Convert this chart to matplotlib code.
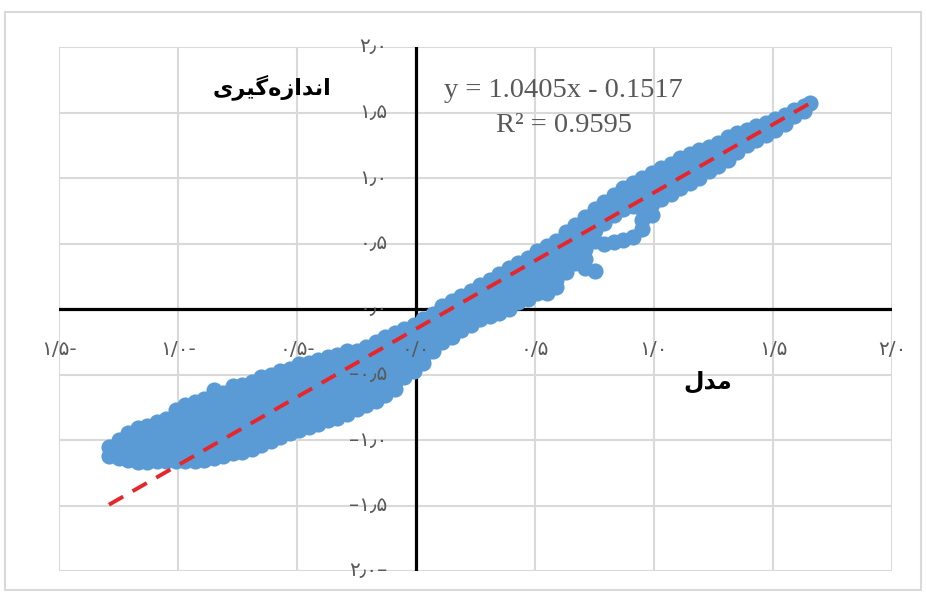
import matplotlib
matplotlib.use('Agg')
import matplotlib.pyplot as plt
from matplotlib.patches import Rectangle

# ---------------- data ----------------
# model values (x) grouped in columns; measured values (y) for each column
col_x = [-1.29, -1.25, -1.21, -1.17, -1.13, -1.09, -1.05, -1.01, -0.97, -0.93,
         -0.89, -0.85, -0.81, -0.77, -0.73, -0.69, -0.65, -0.61, -0.57, -0.53,
         -0.49, -0.45, -0.41, -0.37, -0.33, -0.29, -0.25, -0.21, -0.17, -0.13,
         -0.09, -0.05, -0.01, 0.03, 0.07, 0.11, 0.15, 0.19, 0.23, 0.27,
         0.31, 0.35, 0.39, 0.43, 0.47, 0.51, 0.55, 0.59, 0.63, 0.67,
         0.71, 0.75, 0.79, 0.83, 0.87, 0.91, 0.95, 0.99, 1.03, 1.07,
         1.11, 1.15, 1.19, 1.23, 1.27, 1.31, 1.35, 1.39, 1.43, 1.47,
         1.51, 1.55, 1.59, 1.63, 1.655]
col_y = [
    [-1.05, -1.12],
    [-1.00, -1.07, -1.14],
    [-0.95, -1.02, -1.09, -1.15],
    [-0.91, -0.98, -1.05, -1.12, -1.17],
    [-0.89, -0.96, -1.03, -1.10, -1.17],
    [-0.86, -0.94, -1.02, -1.09, -1.16],
    [-0.84, -0.92, -1.01, -1.09, -1.16],
    [-0.77, -0.86, -0.95, -1.03, -1.10, -1.16],
    [-0.73, -0.80, -0.88, -0.99, -1.08, -1.16],
    [-0.71, -0.80, -0.88, -0.96, -1.04, -1.11, -1.16],
    [-0.69, -0.77, -0.86, -0.94, -1.03, -1.09, -1.15],
    [-0.62, -0.71, -0.79, -0.87, -0.95, -1.02, -1.09, -1.14],
    [-0.64, -0.70, -0.80, -0.88, -0.96, -1.04, -1.12],
    [-0.59, -0.67, -0.76, -0.85, -0.92, -1.03, -1.10],
    [-0.58, -0.65, -0.73, -0.81, -0.89, -0.97, -1.04, -1.09],
    [-0.56, -0.64, -0.72, -0.80, -0.88, -0.95, -1.02, -1.07],
    [-0.52, -0.61, -0.69, -0.77, -0.85, -0.92, -0.99, -1.04],
    [-0.50, -0.58, -0.66, -0.74, -0.82, -0.89, -0.96, -1.01],
    [-0.47, -0.56, -0.64, -0.72, -0.80, -0.87, -0.93, -0.98],
    [-0.46, -0.54, -0.62, -0.70, -0.78, -0.85, -0.91, -0.95],
    [-0.42, -0.50, -0.58, -0.66, -0.74, -0.82, -0.88, -0.92],
    [-0.41, -0.49, -0.57, -0.65, -0.73, -0.80, -0.86, -0.90],
    [-0.39, -0.47, -0.55, -0.63, -0.71, -0.78, -0.84, -0.88],
    [-0.37, -0.45, -0.53, -0.61, -0.69, -0.76, -0.82, -0.85],
    [-0.35, -0.43, -0.51, -0.59, -0.67, -0.74, -0.80, -0.83],
    [-0.32, -0.41, -0.49, -0.57, -0.65, -0.72, -0.78, -0.80],
    [-0.32, -0.39, -0.47, -0.55, -0.63, -0.70, -0.76],
    [-0.29, -0.37, -0.45, -0.53, -0.61, -0.67, -0.73],
    [-0.25, -0.33, -0.41, -0.49, -0.57, -0.64, -0.70],
    [-0.21, -0.29, -0.37, -0.45, -0.53, -0.60, -0.66],
    [-0.18, -0.26, -0.34, -0.42, -0.50, -0.56, -0.61],
    [-0.15, -0.23, -0.31, -0.39, -0.46, -0.52],
    [-0.12, -0.19, -0.27, -0.35, -0.42, -0.47],
    [-0.08, -0.15, -0.23, -0.31, -0.37, -0.41],
    [-0.04, -0.11, -0.19, -0.26, -0.32],
    [0.02, -0.05, -0.12, -0.19, -0.25],
    [0.06, -0.01, -0.08, -0.15, -0.21],
    [0.10, 0.03, -0.04, -0.11, -0.16],
    [0.14, 0.07, 0.00, -0.07, -0.12],
    [0.18, 0.11, 0.04, -0.03, -0.08],
    [0.22, 0.15, 0.08, 0.01, -0.05],
    [0.27, 0.20, 0.12, 0.05, -0.03],
    [0.31, 0.24, 0.16, 0.08, 0.00],
    [0.35, 0.28, 0.20, 0.12, 0.05],
    [0.39, 0.32, 0.24, 0.16, 0.08],
    [0.44, 0.37, 0.29, 0.21, 0.12],
    [0.48, 0.41, 0.33, 0.25, 0.17, 0.12],
    [0.52, 0.45, 0.37, 0.29, 0.22, 0.17],
    [0.59, 0.51, 0.43, 0.35, 0.28],
    [0.64, 0.56, 0.48, 0.41, 0.35],
    [0.70, 0.62, 0.54, 0.46, 0.38, 0.31],
    [0.76, 0.68, 0.60, 0.52, 0.29],
    [0.82, 0.74, 0.66, 0.50],
    [0.87, 0.79, 0.72, 0.51],
    [0.92, 0.84, 0.76, 0.53],
    [0.96, 0.88, 0.79, 0.55],
    [1.00, 0.92, 0.84, 0.76, 0.68, 0.61],
    [1.04, 0.96, 0.88, 0.80, 0.72],
    [1.08, 1.00, 0.92, 0.84],
    [1.11, 1.04, 0.96, 0.88],
    [1.15, 1.08, 1.00, 0.92],
    [1.18, 1.11, 1.04, 0.96],
    [1.21, 1.14, 1.07, 1.00],
    [1.24, 1.17, 1.10, 1.05],
    [1.27, 1.20, 1.13, 1.09],
    [1.31, 1.24, 1.17, 1.14],
    [1.34, 1.27, 1.20],
    [1.37, 1.31, 1.25],
    [1.40, 1.34, 1.29],
    [1.42, 1.37, 1.33],
    [1.45, 1.40, 1.37],
    [1.48, 1.44, 1.41],
    [1.52, 1.47],
    [1.55, 1.51],
    [1.57],
]

# trendline shown on chart
slope = 1.0405
intercept = -0.1517
r_squared = 0.9595

x_ticks = [-1.5, -1.0, -0.5, 0.0, 0.5, 1.0, 1.5, 2.0]
x_tick_labels = ['۱/۵-', '۱/۰-', '۰/۵-', '۰/۰', '۰/۵', '۱/۰', '۱/۵', '۲/۰']
y_ticks = [-2.0, -1.5, -1.0, -0.5, 0.0, 0.5, 1.0, 1.5, 2.0]
y_tick_labels = ['۲٫۰–', '–۱٫۵', '–۱٫۰', '–۰٫۵', '۰٫۰', '۰٫۵', '۱٫۰', '۱٫۵', '۲٫۰']

# axis titles (Persian, written in shaped presentation forms, visual order)
x_title = '\uFEDD\uFEAA\uFEE3'                       # مدل
y_title = '\uFBFC\uFEAE\uFBFF\uFB94\uFEE9\uFEAF\uFE8D\uFEAA\uFEE7\uFE8D'  # اندازه‌گیری

# ---------------- figure ----------------
W, H = 926, 601
fig = plt.figure(figsize=(W / 100, H / 100), dpi=100)
fig.patch.set_facecolor('white')

# outer light-grey frame
fig.patches.append(Rectangle((5 / W, 1 - 590 / H), (921 - 5) / W, (590 - 12) / H,
                             transform=fig.transFigure, fill=False,
                             edgecolor='#d9d9d9', linewidth=1.5))

ax = fig.add_axes([59 / W, 1 - 571 / H, (892 - 59) / W, (571 - 47) / H])
ax.set_xlim(-1.5, 2.0)
ax.set_ylim(-2.0, 2.0)
for s in ax.spines.values():
    s.set_visible(False)
ax.set_xticks(x_ticks)
ax.set_yticks(y_ticks)
ax.tick_params(length=0, labelbottom=False, labelleft=False)
ax.set_axisbelow(True)
ax.grid(True, color='#d9d9d9', linewidth=1.5)

# axes through origin
ax.axhline(0, color='black', linewidth=2.3, zorder=1.5)
ax.axvline(0, color='black', linewidth=2.3, zorder=1.5)

# scatter
xs, ys = [], []
for cx, cy in zip(col_x, col_y):
    for v in cy:
        xs.append(cx)
        ys.append(v)
ax.scatter(xs, ys, s=135, c='#5b9bd5', linewidths=0, zorder=2)

# trendline
x0, x1 = min(xs), max(xs)
ax.plot([x0, x1], [slope * x0 + intercept, slope * x1 + intercept],
        color='#e8262a', linewidth=2.8, linestyle=(0, (4.2, 2.8)), zorder=3,
        solid_capstyle='butt')

# tick labels
lab_col = '#595959'
for xv, lab in zip(x_ticks, x_tick_labels):
    ax.text(xv, -0.31, lab, ha='center', va='center', fontsize=14.5,
            color=lab_col, family='DejaVu Sans', zorder=5)
for yv, lab in zip(y_ticks, y_tick_labels):
    ax.text(-0.12, yv, lab, ha='right', va='center', fontsize=14.5,
            color=lab_col, family='DejaVu Sans', zorder=5)

# equation
ax.text(0.62, 1.67, f'y = {slope}x - {abs(intercept)}', ha='center', va='center',
        fontsize=20.5, color=lab_col, family='Liberation Serif', zorder=5)
ax.text(0.62, 1.40, f'R² = {r_squared}', ha='center', va='center',
        fontsize=20.5, color=lab_col, family='Liberation Serif', zorder=5)

# axis titles
ax.text(-0.605, 1.69, y_title, ha='center', va='center', fontsize=16,
        fontweight='bold', color='black', family='DejaVu Sans', zorder=5)
ax.text(1.227, -0.557, x_title, ha='center', va='center', fontsize=17,
        fontweight='bold', color='black', family='DejaVu Sans', zorder=5)

fig.savefig('out.png', dpi=100)
